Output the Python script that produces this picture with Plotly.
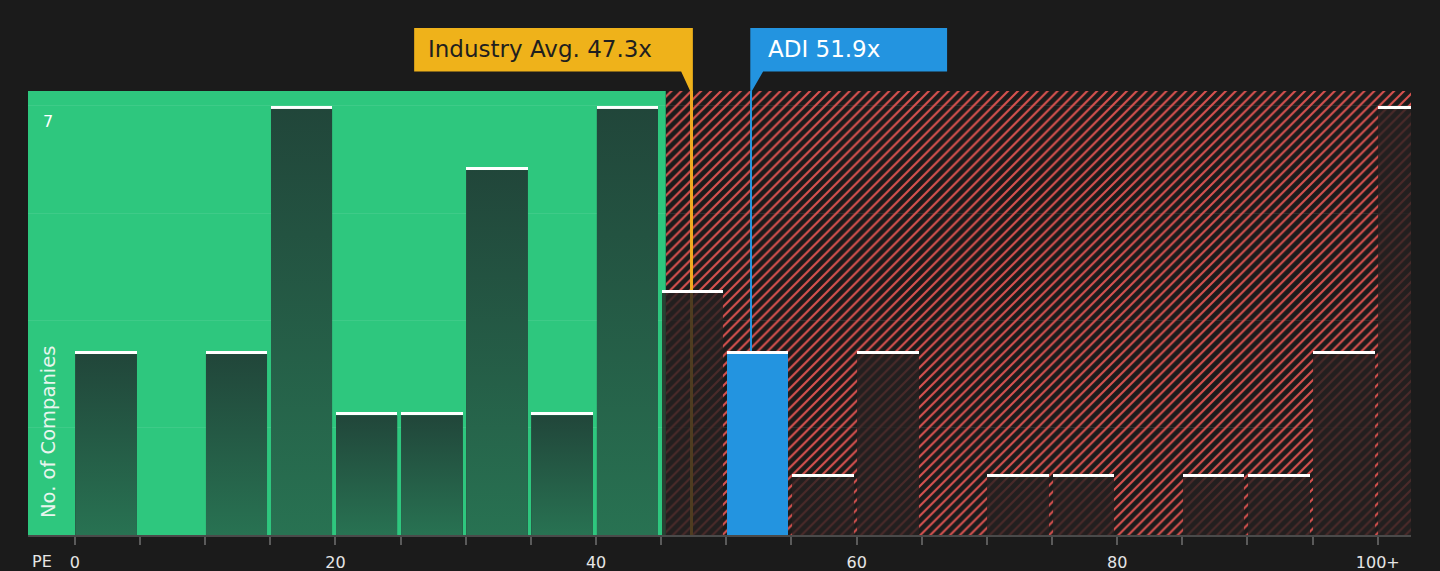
import base64
import plotly.graph_objects as go

# PE distribution: left edge of each 5-wide bin (last bin is "100+")
bin_left = [0, 5, 10, 15, 20, 25, 30, 35, 40, 45, 50, 55, 60, 65, 70, 75, 80, 85, 90, 95, 100]
company_counts = [3, 0, 3, 7, 2, 2, 6, 2, 7, 4, 3, 1, 3, 0, 1, 1, 0, 1, 1, 3, 7]

x_tick_vals = [0, 5, 10, 15, 20, 25, 30, 35, 40, 45, 50, 55, 60, 65, 70, 75, 80, 85, 90, 95, 100]
x_tick_text = ["0", "", "", "", "20", "", "", "", "40", "", "", "",
               "60", "", "", "", "80", "", "", "", "100+"]
y_grid_vals = [1.75, 3.5, 5.25, 7]
y_label_val = 7

industry_avg = 47.3
company_name = "ADI"
company_pe = 51.9
green_limit = 45.35

# layout
W, H = 1440, 571
M_L, M_R, M_T, M_B = 28, 29, 91, 36
PLOT_W = W - M_L - M_R
PLOT_H = H - M_T - M_B
X_RANGE = [-3.6, 102.55]
Y_TOP = 7.24
BIN_W = 5
BAR_W = 4.72
BAR_OFF = 0.04

BG = "#1b1b1b"
GREEN = "#2ec77e"
GREEN_BAR = "#255c45"
RED = "#d9524f"
RED_BAR = "rgba(38,33,33,0.8)"
BLUE = "#2394e0"
YELLOW = "#efb21a"
ORANGE = "#f0a91e"
FONT = "DejaVu Sans"


def paper_y(px):
    """pixel row (from top of figure) -> paper y"""
    return (H - M_B - px) / PLOT_H


def paper_x(px):
    return (px - M_L) / PLOT_W


# vertical gradient used on the bars of the green zone
grad_svg = ("<svg xmlns='http://www.w3.org/2000/svg' width='10' height='100' "
            "viewBox='0 0 10 100' preserveAspectRatio='none'>"
            "<defs><linearGradient id='g' x1='0' y1='0' x2='0' y2='1'>"
            "<stop offset='0' stop-color='#21463a'/>"
            "<stop offset='1' stop-color='#287252'/>"
            "</linearGradient></defs>"
            "<rect width='10' height='100' fill='url(#g)'/></svg>")
grad_src = "data:image/svg+xml;base64," + base64.b64encode(grad_svg.encode()).decode()

cap_h = 0.05
company_bin = max(b for b in bin_left if b <= company_pe)
bar_colors = []
images = []
for b, c in zip(bin_left, company_counts):
    if b == company_bin:
        bar_colors.append(BLUE)
    elif b + BIN_W / 2 < green_limit:
        bar_colors.append(GREEN_BAR)
        if c > 0:
            images.append(dict(source=grad_src, xref="x", yref="y",
                               x=b + BAR_OFF, y=c - cap_h, sizex=BAR_W, sizey=c - cap_h,
                               xanchor="left", yanchor="top",
                               sizing="stretch", layer="above"))
    else:
        bar_colors.append(RED_BAR)

cap_x = [b for b, c in zip(bin_left, company_counts) if c > 0]
cap_base = [c - cap_h for c in company_counts if c > 0]

fig = go.Figure()

# hatched "expensive" zone
fig.add_trace(go.Bar(
    x=[green_limit], y=[Y_TOP], width=[X_RANGE[1] - green_limit], offset=0,
    marker=dict(color="rgba(0,0,0,0)", line_width=0,
                pattern=dict(shape="/", fgcolor=RED, bgcolor="rgba(0,0,0,0)",
                             fgopacity=1, size=7, solidity=0.3)),
    hoverinfo="skip",
))

# marker lines for industry avg and company
fig.add_trace(go.Bar(
    x=[industry_avg], y=[Y_TOP], width=[0.25], offset=-0.125,
    marker=dict(color=ORANGE, line_width=0), hoverinfo="skip",
))
fig.add_trace(go.Bar(
    x=[company_pe], y=[Y_TOP], width=[0.13], offset=-0.065,
    marker=dict(color=BLUE, line_width=0), hoverinfo="skip",
))

# histogram bars
fig.add_trace(go.Bar(
    x=bin_left, y=company_counts, width=BAR_W, offset=BAR_OFF,
    marker=dict(color=bar_colors, line_width=0),
    hovertemplate="PE %{x}: %{y}<extra></extra>",
))

# white caps
fig.add_trace(go.Bar(
    x=cap_x, y=[cap_h] * len(cap_x), base=cap_base, width=BAR_W, offset=BAR_OFF,
    marker=dict(color="#ffffff", line_width=0), hoverinfo="skip",
))

shapes = [
    dict(type="rect", xref="x", yref="paper", x0=X_RANGE[0], x1=green_limit,
         y0=0, y1=1, fillcolor=GREEN, line_width=0, layer="below"),
]

box_top = paper_y(28)
box_bot = paper_y(71.5)
box_mid = paper_y(49.5)

# industry avg callout (box sits to the left of the line)
shapes.append(dict(
    type="path", xref="x", yref="paper", xsizemode="pixel", xanchor=industry_avg,
    path=(f"M -277,{box_top} L 1.7,{box_top} L 1.7,1 L -1,1 "
          f"L -10,{box_bot} L -277,{box_bot} Z"),
    fillcolor=YELLOW, line_width=0, layer="above",
))
# company callout (box sits to the right of the line)
shapes.append(dict(
    type="path", xref="x", yref="paper", xsizemode="pixel", xanchor=company_pe,
    path=(f"M -0.8,{box_top} L 196,{box_top} L 196,{box_bot} L 12,{box_bot} "
          f"L 0.8,1 L -0.8,1 Z"),
    fillcolor=BLUE, line_width=0, layer="above",
))

annotations = [
    dict(text=f"Industry Avg. {industry_avg}x", x=industry_avg, xref="x",
         y=box_mid, yref="paper", xanchor="left", yanchor="middle",
         xshift=-265, showarrow=False, font=dict(family=FONT, size=23, color="#1f1f1f")),
    dict(text=f"{company_name} {company_pe}x", x=company_pe, xref="x",
         y=box_mid, yref="paper", xanchor="left", yanchor="middle",
         xshift=15, showarrow=False, font=dict(family=FONT, size=23, color="#ffffff")),
    dict(text=str(y_label_val), x=paper_x(48), xref="paper",
         y=y_label_val, yref="y", xanchor="center", yanchor="top", yshift=-4,
         showarrow=False, font=dict(family=FONT, size=16, color="#ffffff")),
    dict(text="No. of Companies", x=paper_x(48), xref="paper",
         y=paper_y(520), yref="paper", xanchor="center", yanchor="bottom",
         textangle=-90, showarrow=False,
         font=dict(family=FONT, size=19.5, color="#e8f5ee")),
    dict(text="PE", x=paper_x(42), xref="paper",
         y=paper_y(561), yref="paper", xanchor="center", yanchor="middle",
         showarrow=False, font=dict(family=FONT, size=16, color="#e6e6e6")),
]

fig.update_layout(
    width=W, height=H,
    margin=dict(l=M_L, r=M_R, t=M_T, b=M_B),
    paper_bgcolor=BG, plot_bgcolor=BG,
    barmode="overlay", bargap=0,
    showlegend=False,
    shapes=shapes,
    annotations=annotations,
    images=images,
    font=dict(family=FONT, color="#e6e6e6"),
    xaxis=dict(range=X_RANGE, showgrid=False, zeroline=False, automargin=False,
               tickvals=x_tick_vals, ticktext=x_tick_text,
               ticks="outside", ticklen=8, tickwidth=1.5, tickcolor="#5a5a5a",
               ticklabelstandoff=4,
               showline=True, linecolor="#4a4a4a", linewidth=2,
               tickfont=dict(family=FONT, size=16, color="#e6e6e6"),
               fixedrange=True),
    yaxis=dict(range=[0, Y_TOP], tickvals=y_grid_vals, showticklabels=False,
               automargin=False,
               showgrid=True, gridcolor="rgba(255,255,255,0.08)", gridwidth=1,
               zeroline=False, ticks="", fixedrange=True),
)

fig.write_html("out.html", config={"displayModeBar": False},
               post_script="document.body.style.margin='0';")
